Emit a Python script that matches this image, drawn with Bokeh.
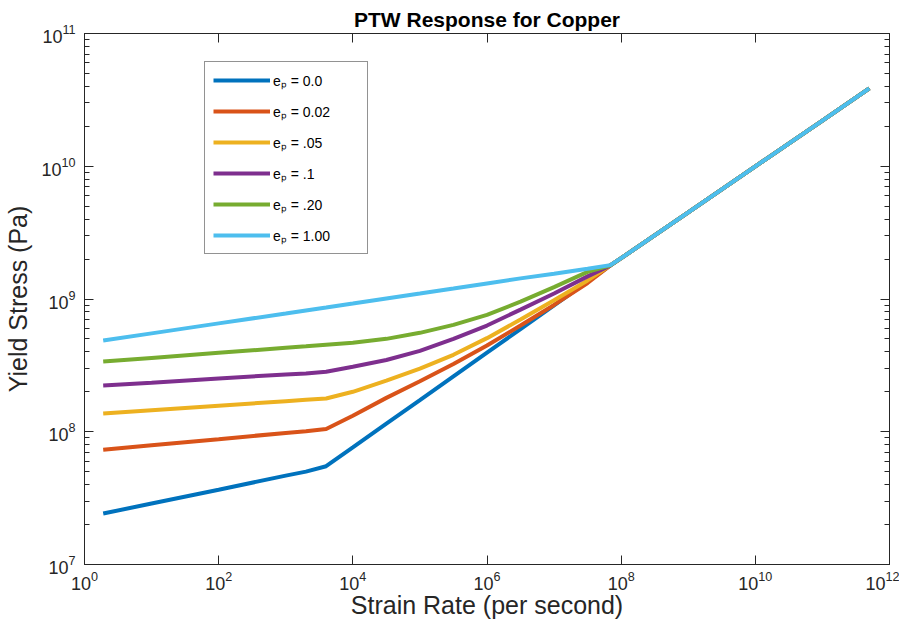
from bokeh.plotting import figure
from bokeh.models import FixedTicker, LogAxis, Legend, LegendItem, ColumnDataSource
from bokeh.embed import file_html
from bokeh.resources import INLINE

# ---- data ----
strain_rate = [1.9, 1e1, 1e2, 1e3, 2e3, 4e3, 1e4, 3.16e4, 1e5, 3.16e5, 1e6,
               3.16e6, 1e7, 3.16e7, 6.9e7, 1e8, 1e9, 1e10, 1e11, 5e11]

ep_000 = [2.42e7, 2.88e7, 3.66e7, 4.67e7, 5.01e7, 5.50e7, 7.62e7, 1.15e8, 1.73e8, 2.61e8,
          3.94e8, 5.94e8, 8.97e8, 1.35e9, 1.79e9, 2.03e9, 4.50e9, 9.98e9, 2.21e10, 3.86e10]
ep_002 = [7.31e7, 7.91e7, 8.79e7, 9.80e7, 1.01e8, 1.05e8, 1.32e8, 1.80e8, 2.40e8, 3.24e8,
          4.47e8, 6.31e8, 9.02e8, 1.32e9, 1.79e9, 2.03e9, 4.50e9, 9.98e9, 2.21e10, 3.86e10]
ep_005 = [1.37e8, 1.45e8, 1.57e8, 1.70e8, 1.74e8, 1.78e8, 2.00e8, 2.43e8, 2.99e8, 3.80e8,
          5.07e8, 7.00e8, 9.77e8, 1.38e9, 1.79e9, 2.03e9, 4.50e9, 9.98e9, 2.21e10, 3.86e10]
ep_010 = [2.23e8, 2.34e8, 2.52e8, 2.70e8, 2.75e8, 2.83e8, 3.09e8, 3.47e8, 4.07e8, 5.01e8,
          6.31e8, 8.32e8, 1.10e9, 1.48e9, 1.79e9, 2.03e9, 4.50e9, 9.98e9, 2.21e10, 3.86e10]
ep_020 = [3.38e8, 3.60e8, 3.93e8, 4.29e8, 4.40e8, 4.52e8, 4.68e8, 5.01e8, 5.56e8, 6.38e8,
          7.59e8, 9.55e8, 1.23e9, 1.60e9, 1.79e9, 2.03e9, 4.50e9, 9.98e9, 2.21e10, 3.86e10]
ep_100 = [4.86e8, 5.51e8, 6.55e8, 7.78e8, 8.20e8, 8.63e8, 9.25e8, 1.01e9, 1.10e9, 1.20e9,
          1.31e9, 1.43e9, 1.55e9, 1.69e9, 1.80e9, 2.03e9, 4.50e9, 9.98e9, 2.21e10, 3.86e10]

series_labels = ["e\u209a = 0.0", "e\u209a = 0.02", "e\u209a = .05",
                 "e\u209a = .1", "e\u209a = .20", "e\u209a = 1.00"]
series_colors = ["#0072BD", "#D95319", "#EDB120", "#7E2F8E", "#77AC30", "#4DBEEE"]

x_ticks = [1e0, 1e2, 1e4, 1e6, 1e8, 1e10, 1e12]
y_ticks = [1e7, 1e8, 1e9, 1e10, 1e11]
y_minor = [k * d for d in (1e7, 1e8, 1e9, 1e10) for k in range(2, 10)]

FONT = "Liberation Sans"
AX = "#262626"

p = figure(x_axis_type="log", y_axis_type="log",
           x_range=(1e0, 1e12), y_range=(1e7, 1e11),
           frame_width=805, frame_height=531,
           min_border_left=84, min_border_right=10, min_border_top=33, min_border_bottom=50,
           output_backend="svg", toolbar_location=None,
           title="PTW Response for Copper")
p.title.align = "center"
p.title.text_font = FONT
p.title.text_font_size = "21px"
p.title.text_font_style = "bold"
p.title.text_color = "#000000"
p.title.standoff = 6
p.title.offset = 0

p.xgrid.visible = False
p.ygrid.visible = False
p.outline_line_color = AX
p.outline_line_width = 1
p.outline_line_alpha = 1
p.background_fill_color = "white"
p.border_fill_color = "white"

xt = FixedTicker(ticks=x_ticks, minor_ticks=[])
yt = FixedTicker(ticks=y_ticks, minor_ticks=y_minor)

for ax, t in ((p.xaxis[0], xt), (p.yaxis[0], yt)):
    ax.ticker = t
    ax.major_tick_in = 9
    ax.major_tick_out = 0
    ax.minor_tick_in = 5
    ax.minor_tick_out = 0
    ax.axis_line_color = AX
    ax.major_tick_line_color = AX
    ax.minor_tick_line_color = AX
    ax.major_label_text_font = FONT
    ax.major_label_text_font_size = "18px"
    ax.major_label_text_color = AX
    ax.axis_label_text_font = FONT
    ax.axis_label_text_font_size = "25px"
    ax.axis_label_text_font_style = "normal"
    ax.axis_label_text_color = AX

p.xaxis[0].axis_label = "Strain Rate (per second)"
p.yaxis[0].axis_label = "Yield Stress (Pa)"
p.xaxis[0].major_label_standoff = 6
p.xaxis[0].axis_label_standoff = -2
p.yaxis[0].major_label_standoff = 9
p.yaxis[0].axis_label_standoff = 6

for side, t in (("right", yt), ("above", xt)):
    a = LogAxis(ticker=t)
    a.major_tick_in = 9
    a.major_tick_out = 0
    a.minor_tick_in = 5
    a.minor_tick_out = 0
    a.axis_line_color = AX
    a.major_tick_line_color = AX
    a.minor_tick_line_color = AX
    a.major_label_text_font_size = "1px"
    a.major_label_text_color = None
    a.major_label_standoff = 0
    p.add_layout(a, side)

source = ColumnDataSource(dict(x=strain_rate, e0=ep_000, e1=ep_002, e2=ep_005,
                               e3=ep_010, e4=ep_020, e5=ep_100))
items = []
for key, lab, col in zip(["e0", "e1", "e2", "e3", "e4", "e5"], series_labels, series_colors):
    r = p.line("x", key, source=source, line_color=col, line_width=4)
    items.append(LegendItem(label=lab, renderers=[r]))

legend = Legend(items=items, location=(120, 310))
legend.margin = 0
legend.padding = 8
legend.spacing = 11
legend.glyph_width = 57
legend.glyph_height = 20
legend.label_height = 20
legend.label_width = 86
legend.label_standoff = 3
legend.label_text_font = FONT
legend.label_text_font_size = "14px"
legend.label_text_color = "#000000"
legend.border_line_color = AX
legend.border_line_width = 1
legend.background_fill_color = "white"
legend.background_fill_alpha = 1
p.add_layout(legend, "center")

open("out.html", "w").write(file_html(p, INLINE))
